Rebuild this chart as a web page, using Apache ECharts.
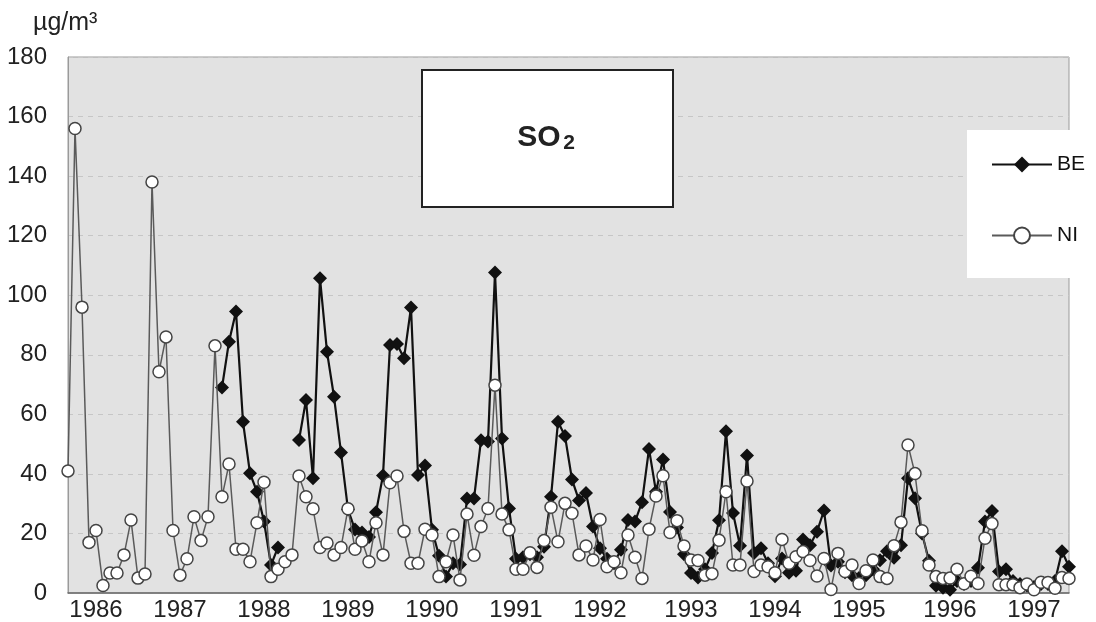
<!DOCTYPE html>
<html>
<head>
<meta charset="utf-8">
<script src="https://cdn.jsdelivr.net/npm/echarts@6/dist/echarts.min.js"></script>
<style>
  html, body { margin: 0; padding: 0; background: #ffffff; }
  #chart { width: 1096px; height: 622px; }
</style>
</head>
<body>
<div id="chart"></div>
<script>
// Monthly SO2 means (µg/m³) for the two stations, one value per month
const yearLabels = ['1986', '1987', '1988', '1989', '1990', '1991', '1992', '1993', '1994', '1995', '1996', '1997'];
// month index under which each year label is printed
const yearLabelIndex = [4, 16, 28, 40, 52, 64, 76, 89, 101, 113, 126, 138];

const beValues = [
  null, null, null, null, null, null, null, null, null, null, null, null,
  null, null, null, null, null, null, null, null, null, null, 69, 84.4,
  94.5, 57.5, 40.2, 34, 24, 9.4, 15.3, null, null, 51.4, 64.8, 38.5,
  105.7, 81, 65.9, 47.2, 28, 21.3, 20.3, 18.8, 27.1, 39.5, 83.3, 83.6,
  78.8, 95.9, 39.6, 42.8, 21.2, 12.5, 5.5, 10, 9.6, 31.7, 31.7, 51.3,
  50.9, 107.6, 51.9, 28.4, 11.5, 12, 13, 12, 15.5, 32.3, 57.5, 52.7,
  38.1, 31.1, 33.6, 22.3, 15, 11.5, 10, 14.5, 24.5, 24, 30.5, 48.4,
  34, 44.8, 27.2, 22, 13, 6.7, 5.2, 8, 13.4, 24.4, 54.3, 26.9,
  15.9, 46.2, 13.4, 15, 10, 5.6, 11.6, 6.8, 7.5, 18, 16, 20.6,
  27.7, 9.2, 10.5, 7, 6, 5, 6, 8, 11, 14, 11.8, 16,
  38.5, 31.8, 20, 10.8, 2.4, 1.8, 1.1, 4, 3, 4, 8.5, 24,
  27.5, 7.2, 8, 4, 3, 2.5, 2, 3, 3, 4, 14, 8.8
];

const niValues = [
  41, 156, 96, 17, 21, 2.5, 6.7, 6.7, 12.8, 24.5, 5, 6.4,
  138, 74.3, 86, 21, 6, 11.5, 25.6, 17.6, 25.6, 83, 32.3, 43.3,
  14.7, 14.7, 10.5, 23.6, 37.2, 5.5, 8, 10.5, 12.8, 39.3, 32.3, 28.3,
  15.3, 16.8, 12.8, 15.3, 28.3, 14.7, 17.5, 10.5, 23.6, 12.8, 37, 39.3,
  20.7, 10, 10, 21.4, 19.5, 5.5, 10.5, 19.5, 4.4, 26.5, 12.7, 22.3,
  28.4, 69.8, 26.5, 21.2, 8, 8, 13.5, 8.6, 17.6, 28.8, 17.2, 30.1,
  26.8, 12.8, 15.8, 11.1, 24.7, 8.8, 10.5, 6.8, 19.5, 12, 4.9, 21.4,
  32.6, 39.4, 20.3, 24.3, 15.8, 11.1, 10.9, 6, 6.5, 17.7, 34, 9.4,
  9.4, 37.6, 7.2, 9.4, 8.8, 6.8, 18, 10, 12.2, 13.9, 10.9, 5.7,
  11.6, 1.2, 13.3, 7.2, 9.4, 3.2, 7.5, 11.1, 5.5, 4.9, 15.9, 23.8,
  49.7, 40.1, 20.9, 9.4, 5.5, 4.9, 5, 8, 3.1, 5.6, 3.2, 18.4,
  23.3, 2.8, 2.8, 2.8, 1.8, 3, 1.1, 3.6, 3.5, 1.6, 5.2, 4.9
];

// one category per month
const months = beValues.map((_, i) => String(i));
const labelAt = {};
yearLabelIndex.forEach((idx, k) => { labelAt[idx] = yearLabels[k]; });

const FONT = '"Liberation Sans", Arial, Helvetica, sans-serif';

const chart = echarts.init(document.getElementById('chart'), null, { renderer: 'canvas' });

chart.setOption({
  animation: false,
  backgroundColor: '#ffffff',
  textStyle: { fontFamily: FONT },
  grid: {
    left: 68, right: 27, top: 57, bottom: 29,
    containLabel: false,
    outerBoundsMode: 'none',
    show: true,
    backgroundColor: '#e2e2e2',
    borderColor: '#9a9a9a',
    borderWidth: 1
  },
  xAxis: {
    type: 'category',
    data: months,
    boundaryGap: false,
    axisLine: { show: true, lineStyle: { color: '#6a6a6a', width: 1.5 } },
    axisTick: { show: false },
    splitLine: { show: false },
    axisLabel: {
      interval: (idx) => labelAt[idx] !== undefined,
      formatter: (val, idx) => labelAt[idx] || '',
      color: '#222',
      fontSize: 24,
      fontFamily: FONT,
      margin: 5
    }
  },
  yAxis: {
    type: 'value',
    min: 0, max: 180, interval: 20,
    axisLine: { show: true, lineStyle: { color: '#9a9a9a', width: 1 } },
    axisTick: { show: false },
    splitLine: { show: true, lineStyle: { color: '#c6c6c6', type: [5, 5], width: 1 } },
    axisLabel: { color: '#222', fontSize: 24, fontFamily: FONT, margin: 21 }
  },
  legend: {
    data: ['BE', 'NI'],
    orient: 'vertical',
    left: 991,
    top: 154,
    itemWidth: 60,
    itemHeight: 20,
    itemGap: 50,
    padding: 0,
    z: 20,
    textStyle: { color: '#111', fontSize: 21, fontFamily: FONT }
  },
  graphic: [
    {
      type: 'rect', z: 10,
      shape: { x: 967, y: 130, width: 129, height: 148 },
      style: { fill: '#ffffff', stroke: null }
    },
    {
      type: 'rect', z: 10,
      shape: { x: 422, y: 70, width: 251, height: 137 },
      style: { fill: '#ffffff', stroke: '#222', lineWidth: 2 }
    },
    {
      type: 'text', z: 11, x: 539, y: 138,
      style: {
        text: 'SO', font: 'bold 30px ' + FONT, fill: '#222',
        textAlign: 'center', textVerticalAlign: 'middle', align: 'center', verticalAlign: 'middle'
      }
    },
    {
      type: 'text', z: 11, x: 569, y: 143,
      style: {
        text: '2', font: 'bold 21px ' + FONT, fill: '#222',
        textAlign: 'center', textVerticalAlign: 'middle', align: 'center', verticalAlign: 'middle'
      }
    },
    {
      type: 'text', z: 11, x: 33, y: 23,
      style: {
        text: 'µg/m³', font: '25px ' + FONT, fill: '#222',
        textAlign: 'left', textVerticalAlign: 'middle', align: 'left', verticalAlign: 'middle'
      }
    }
  ],
  series: [
    {
      name: 'BE',
      type: 'line',
      data: beValues,
      showAllSymbol: true,
      symbol: 'diamond',
      symbolSize: [14, 14],
      connectNulls: false,
      z: 3,
      lineStyle: { color: '#111', width: 2.2 },
      itemStyle: { color: '#111', borderColor: '#111', borderWidth: 0 }
    },
    {
      name: 'NI',
      type: 'line',
      data: niValues,
      showAllSymbol: true,
      symbol: 'circle',
      symbolSize: 12,
      z: 4,
      lineStyle: { color: '#5a5a5a', width: 1.5 },
      itemStyle: { color: '#ffffff', borderColor: '#444', borderWidth: 1.5 }
    }
  ]
});
</script>
</body>
</html>
